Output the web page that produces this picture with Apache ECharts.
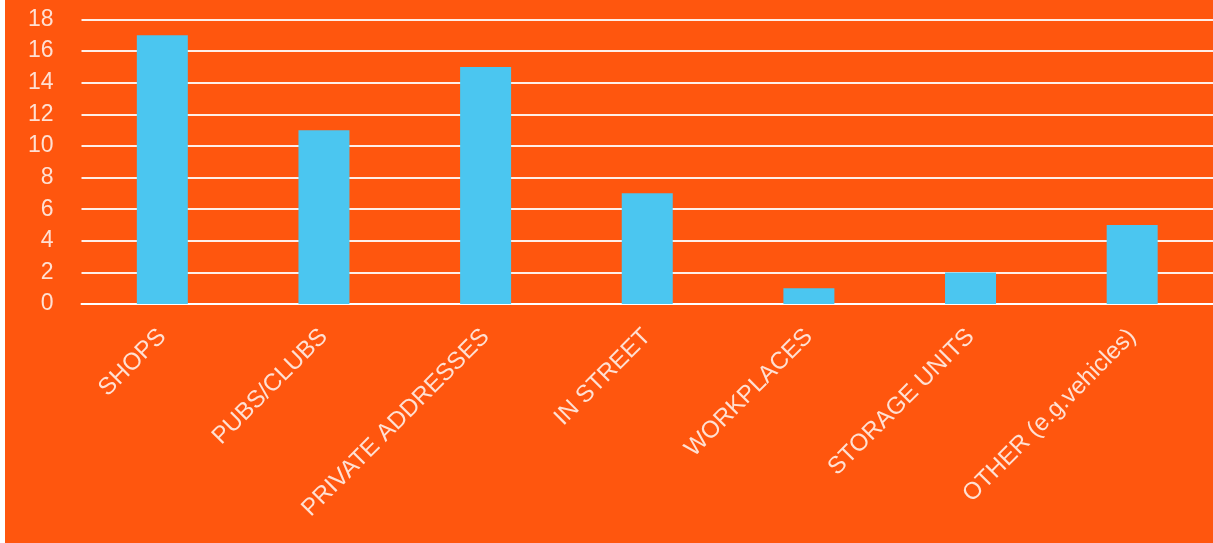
<!DOCTYPE html>
<html>
<head>
<meta charset="utf-8">
<script src="https://cdn.jsdelivr.net/npm/echarts@6/dist/echarts.min.js"></script>
<style>
  html, body { margin: 0; padding: 0; background: #ffffff; }
  #chart { position: absolute; left: 5px; top: 0; width: 1208px; height: 543px; background: #FF560E; }
</style>
</head>
<body>
<div id="chart"></div>
<script>
// Locations where incidents were recorded
const categories = ['SHOPS', 'PUBS/CLUBS', 'PRIVATE ADDRESSES', 'IN STREET', 'WORKPLACES', 'STORAGE UNITS', 'OTHER (e.g.vehicles)'];
const counts = [17, 11, 15, 7, 1, 2, 5];
const yTicks = [0, 2, 4, 6, 8, 10, 12, 14, 16, 18];

const labelColor = 'rgba(255,255,255,0.82)';
const fontFamily = '"Liberation Sans", Helvetica, Arial, sans-serif';

const chart = echarts.init(document.getElementById('chart'), null, { renderer: 'canvas' });
chart.setOption({
  animation: false,
  backgroundColor: '#FF560E',
  grid: { left: 76.5, right: -3, top: 19.5, bottom: 239, containLabel: false },
  xAxis: {
    type: 'category',
    data: categories,
    axisLine: { show: true, lineStyle: { color: '#ffffff', width: 2 } },
    axisTick: { show: false },
    axisLabel: {
      rotate: 45,
      interval: 0,
      margin: 29,
      color: labelColor,
      fontSize: 24,
      fontFamily: fontFamily
    }
  },
  yAxis: {
    type: 'value',
    min: yTicks[0],
    max: yTicks[yTicks.length - 1],
    interval: 2,
    axisLine: { show: false },
    axisTick: { show: false },
    splitLine: { show: true, lineStyle: { color: 'rgba(255,255,255,0.9)', width: 2 } },
    axisLabel: {
      margin: 28,
      padding: [6, 0, 0, 0],
      color: labelColor,
      fontSize: 23,
      fontFamily: fontFamily
    }
  },
  series: [{
    type: 'bar',
    data: counts,
    barWidth: 51,
    itemStyle: { color: '#4BC6F0' }
  }]
});
</script>
</body>
</html>
